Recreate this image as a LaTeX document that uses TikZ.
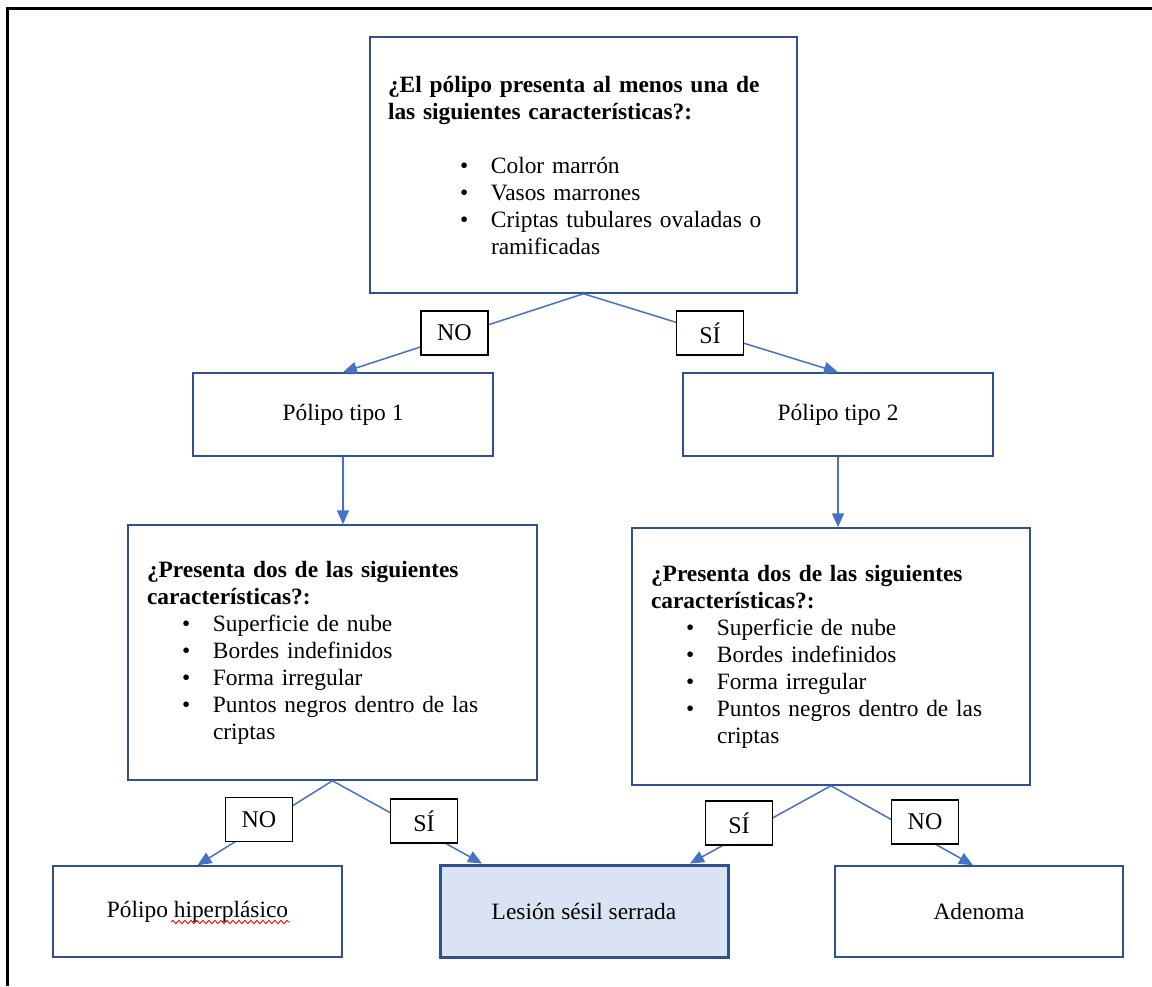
\documentclass[tikz,border=0pt]{standalone}
\usepackage{fontspec}
\setmainfont{Liberation Serif}
\usetikzlibrary{arrows.meta,decorations.pathmorphing}
\definecolor{bordeazul}{HTML}{2F528F}
\definecolor{lineaazul}{HTML}{4472C4}
\definecolor{rellenoazul}{HTML}{DAE3F3}
\newcommand{\punto}[2]{\hspace*{#1}\makebox[15.5pt][l]{\textbullet}#2}
\begin{document}
\begin{tikzpicture}[x=0.5pt, y=-0.5pt,
    caja/.style ={rectangle, draw=bordeazul, line width=0.75pt, align=center,
      font=\fontsize{11.7}{13.5}\selectfont},
    pregunta/.style ={caja, align=left, inner ysep=0pt, inner xsep=9.5pt},
    etiqueta/.style ={rectangle, draw=black, line width=0.8pt, fill=white,
      minimum width=33.5pt, minimum height=22pt, inner sep=0pt,
      font=\fontsize{12}{13.5}\selectfont},
    flecha/.style ={draw=lineaazul, line width=0.75pt, -{Triangle[length=7pt,width=6pt]}}]
   \useasboundingbox (0,0) rectangle (1152,986);
   \draw[line width=1.5pt] (7,986) -- (7,8) -- (1152,8);

   \node[pregunta, inner xsep=9pt, text width=195.5pt, minimum height=128pt] (pregunta1) at (583.5,165)
     {\textbf{¿El pólipo presenta al menos una de}\\
      \textbf{las siguientes características?:}\\[13.5pt]
      \punto{36pt}{Color marrón}\\
      \punto{36pt}{Vasos marrones}\\
      \punto{36pt}{Criptas tubulares ovaladas o}\\
      \hspace*{51.5pt}ramificadas};
   \node[caja, minimum width=150pt, minimum height=41.5pt] (tipo1) at (343,414.5) {Pólipo tipo 1};
   \node[caja, minimum width=155pt, minimum height=41.5pt] (tipo2) at (838,414.5) {Pólipo tipo 2};
   \node[pregunta, text width=185.5pt, minimum height=127.5pt] (pregunta2) at (332.5,652.5)
     {\textbf{¿Presenta dos de las siguientes}\\
      \textbf{características?:}\\
      \punto{17.5pt}{Superficie de nube}\\
      \punto{17.5pt}{Bordes indefinidos}\\
      \punto{17.5pt}{Forma irregular}\\
      \punto{17.5pt}{Puntos negros dentro de las}\\
      \hspace*{33pt}criptas};
   \node[pregunta, text width=180pt, minimum height=128.5pt] (pregunta3) at (831,656.5)
     {\textbf{¿Presenta dos de las siguientes}\\
      \textbf{características?:}\\
      \punto{17.5pt}{Superficie de nube}\\
      \punto{17.5pt}{Bordes indefinidos}\\
      \punto{17.5pt}{Forma irregular}\\
      \punto{17.5pt}{Puntos negros dentro de las}\\
      \hspace*{33pt}criptas};
   \node[caja, minimum width=144.5pt, minimum height=45.5pt] (hiper) at (197.5,911.5) {Pólipo hiperplásico};
   \node[caja, line width=1.5pt, fill=rellenoazul, minimum width=144pt, minimum height=46pt] (lesion) at (584,911) {Lesión sésil serrada};
   \node[caja, minimum width=144pt, minimum height=45.5pt] (adenoma) at (979,911.5) {Adenoma};

   \draw[flecha] (pregunta1.south) to (tipo1.north);
   \draw[flecha] (pregunta1.south) to (tipo2.north);
   \draw[flecha] (tipo1.south) to (tipo1.south |- pregunta2.north);
   \draw[flecha] (tipo2.south) to (tipo2.south |- pregunta3.north);
   \draw[flecha] (pregunta2.south) to (hiper.north);
   \draw[flecha] (pregunta2.south) to ([xshift=-51pt]lesion.north);
   \draw[flecha] (pregunta3.south) to ([xshift=53pt]lesion.north);
   \draw[flecha] (pregunta3.south) to ([xshift=-3pt]adenoma.north);

   \node[etiqueta] (noA) at (454.5,333) {NO};
   \node[etiqueta] (siA) at (710,333) {SÍ};
   \node[etiqueta] (noB) at (259,819.5) {NO};
   \node[etiqueta] (siB) at (424,821) {SÍ};
   \node[etiqueta] (siC) at (739,823) {SÍ};
   \node[etiqueta] (noC) at (925,822) {NO};

   \draw[red, line width=0.45pt, decorate, decoration={snake, segment length=3pt, amplitude=0.8pt}]
     (171,922) -- (290,922);
\end{tikzpicture}
\end{document}
